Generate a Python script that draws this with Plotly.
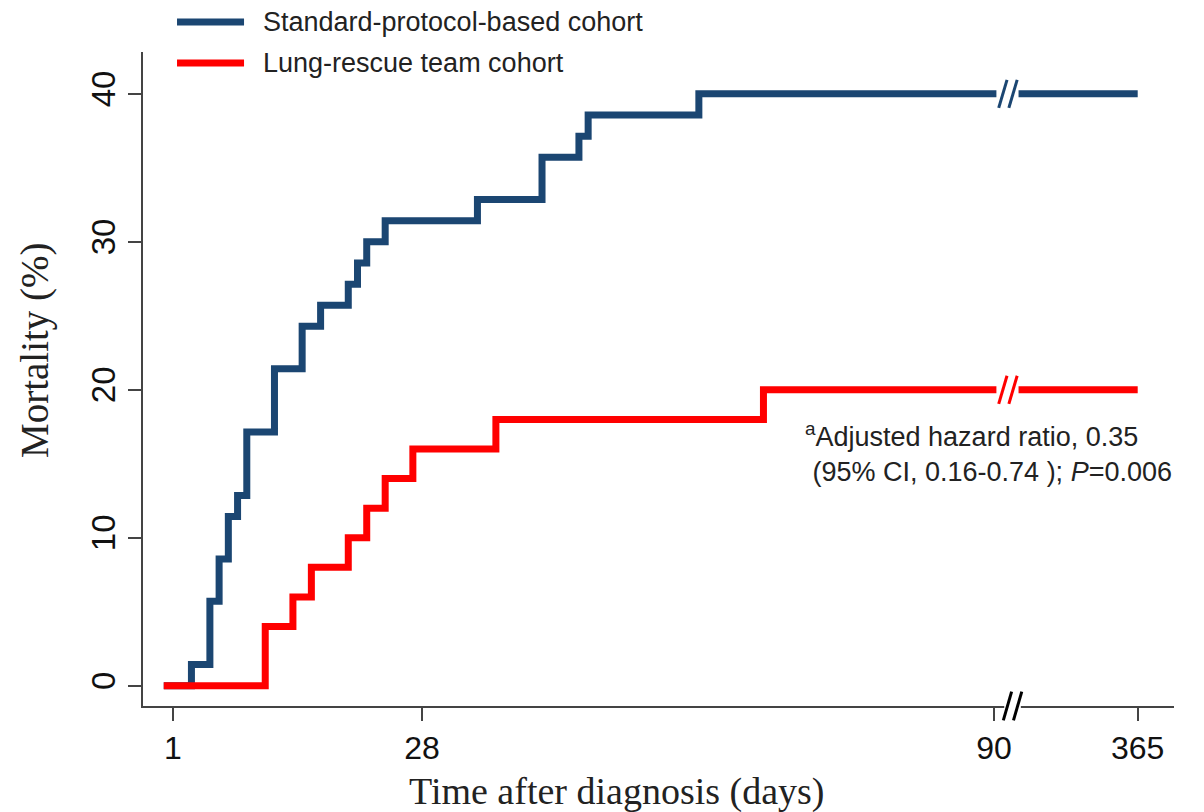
import plotly.graph_objects as go

# ---------------- data ----------------
series_names = ["Standard-protocol-based cohort", "Lung-rescue team cohort"]
series_colors = ["#1B4672", "#FF0000"]

days_std = [0, 3, 5, 6, 7, 8, 9, 12, 15, 17, 20, 21, 22, 24, 34, 41, 45, 46, 58, 365]
mort_std = [0, 1.43, 5.71, 8.57, 11.43, 12.86, 17.14, 21.43, 24.29, 25.71, 27.14,
            28.57, 30.0, 31.43, 32.86, 35.71, 37.14, 38.57, 40.0, 40.0]

days_lrt = [0, 11, 14, 16, 20, 22, 24, 27, 36, 65, 365]
mort_lrt = [0, 4, 6, 8, 10, 12, 14, 16, 18, 20, 20]

x_tick_days = [1, 28, 90, 365]
x_tick_text = ["1", "28", "90", "365"]
y_tick_vals = [0, 10, 20, 30, 40]

note_text = ("<sup>a</sup>Adjusted hazard ratio, 0.35<br>"
             " (95% CI, 0.16-0.74 ); <i>P</i>=0.006")

# ---------------- broken axis transform ----------------
BREAK = 90
COMPRESS = 0.0566   # scale of the segment beyond the break


def tx(d):
    return d if d <= BREAK else BREAK + (d - BREAK) * COMPRESS


X_MIN, X_MAX = -2.25, 109.5
Y_MIN, Y_MAX = -1.37, 42.83
BREAK_MARK_X = 91.5

SANS = "Liberation Sans, Arial, sans-serif"
SERIF = "Liberation Serif, Times New Roman, serif"
AXIS_COLOR = "#444444"

fig = go.Figure()
series = [(days_std, mort_std), (days_lrt, mort_lrt)]
for (d, m), name, col in zip(series, series_names, series_colors):
    fig.add_trace(go.Scatter(
        x=[tx(v) for v in d], y=m, mode="lines", name=name,
        line=dict(color=col, width=7, shape="hv"),
        showlegend=False, hoverinfo="skip",
    ))

shapes = []
# break marks on each curve (at its plateau level)
for m, col in zip([mort_std[-1], mort_lrt[-1]], series_colors):
    shapes.append(dict(type="rect", xref="x", yref="y",
                       x0=BREAK_MARK_X - 1.25, x1=BREAK_MARK_X + 1.15,
                       y0=m - 0.5, y1=m + 0.5,
                       fillcolor="white", line=dict(width=0), layer="above"))
    for off in (-0.55, 0.55):
        shapes.append(dict(type="line", xref="x", yref="y",
                           x0=BREAK_MARK_X + off - 0.45, y0=m - 0.95,
                           x1=BREAK_MARK_X + off + 0.45, y1=m + 0.95,
                           line=dict(color=col, width=3), layer="above"))

# break mark on the x axis (paper coords)
def px_x(X):
    return (X - X_MIN) / (X_MAX - X_MIN)

ax_mark = 92.0
shapes.append(dict(type="rect", xref="paper", yref="paper",
                   x0=px_x(ax_mark - 0.9), x1=px_x(ax_mark + 0.9), y0=-0.004, y1=0.004,
                   fillcolor="white", line=dict(width=0), layer="above"))
for off in (-0.55, 0.55):
    shapes.append(dict(type="line", xref="paper", yref="paper",
                       x0=px_x(ax_mark + off - 0.45), y0=-0.022,
                       x1=px_x(ax_mark + off + 0.45), y1=0.022,
                       line=dict(color="black", width=3), layer="above"))

# manual legend
legend_y = [1.046, 0.983]
for ly, col in zip(legend_y, series_colors):
    shapes.append(dict(type="line", xref="paper", yref="paper",
                       x0=0.033, x1=0.098, y0=ly, y1=ly,
                       line=dict(color=col, width=7)))

annotations = []
for ly, name in zip(legend_y, series_names):
    annotations.append(dict(xref="paper", yref="paper", x=0.1145, y=ly,
                            xanchor="left", yanchor="middle", showarrow=False,
                            text=name, font=dict(family=SANS, size=27, color="#222")))

annotations.append(dict(xref="paper", yref="paper", x=0.64, y=0.387,
                        xanchor="left", yanchor="middle", align="left", showarrow=False,
                        text=note_text, font=dict(family=SANS, size=27, color="#222")))

# axis titles
annotations.append(dict(xref="paper", yref="paper", x=0.459, y=-0.13,
                        xanchor="center", yanchor="middle", showarrow=False,
                        text="Time after diagnosis (days)",
                        font=dict(family=SERIF, size=38, color="#222")))
annotations.append(dict(xref="paper", yref="paper", x=-0.105, y=0.544,
                        xanchor="center", yanchor="middle", showarrow=False, textangle=-90,
                        text="Mortality (%)",
                        font=dict(family=SERIF, size=39, color="#222")))

fig.update_layout(
    width=1204, height=812,
    margin=dict(l=143, r=30, t=52, b=106),
    paper_bgcolor="white", plot_bgcolor="white",
    shapes=shapes, annotations=annotations,
    showlegend=False,
    xaxis=dict(range=[X_MIN, X_MAX], tickvals=[tx(v) for v in x_tick_days], ticktext=x_tick_text,
               showline=True, linecolor=AXIS_COLOR, linewidth=2,
               ticks="outside", ticklen=13, tickwidth=2, tickcolor=AXIS_COLOR,
               tickfont=dict(family=SANS, size=32, color="#111"),
               showgrid=False, zeroline=False),
    yaxis=dict(range=[Y_MIN, Y_MAX], tickvals=y_tick_vals, tickangle=-90,
               showline=True, linecolor=AXIS_COLOR, linewidth=2,
               ticks="outside", ticklen=13, tickwidth=2, tickcolor=AXIS_COLOR,
               tickfont=dict(family=SANS, size=33, color="#111"),
               showgrid=False, zeroline=False),
)

fig.write_html("out.html")
